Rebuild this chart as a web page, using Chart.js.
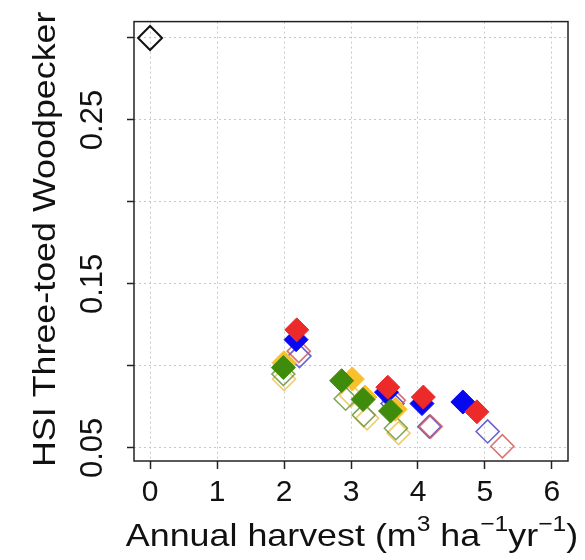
<!DOCTYPE html>
<html lang="en">
<head>
  <meta charset="UTF-8">
  <title>HSI Three-toed Woodpecker vs annual harvest</title>
  <style>
    html, body { margin: 0; padding: 0; background: #fff; }
    .chart-box { position: relative; width: 585px; height: 560px; }
  </style>
</head>
<body>
  <div class="chart-box">
    <canvas id="hsiChart"></canvas>
  </div>

  <script src="https://cdn.jsdelivr.net/npm/chart.js"></script>
  <script>
    // habitat suitability per harvest level, one series per scenario
    const baseX = [0];
    const baseY = [0.30];

    const redFilledX = [2.19, 3.55, 4.08, 4.88];
    const redFilledY = [0.122, 0.087, 0.081, 0.072];
    const blueFilledX = [2.18, 3.53, 4.06, 4.67];
    const blueFilledY = [0.116, 0.084, 0.077, 0.078];
    const yellowFilledX = [2.00, 3.02, 3.21, 3.66];
    const yellowFilledY = [0.102, 0.092, 0.081, 0.0735];
    const greenFilledX = [1.99, 2.86, 3.18, 3.59];
    const greenFilledY = [0.099, 0.091, 0.0795, 0.0725];

    const redOpenX = [2.22, 3.64, 4.19, 5.26];
    const redOpenY = [0.109, 0.079, 0.063, 0.051];
    const blueOpenX = [2.23, 3.62, 4.17, 5.04];
    const blueOpenY = [0.106, 0.077, 0.063, 0.060];
    const yellowOpenX = [2.00, 3.00, 3.24, 3.71];
    const yellowOpenY = [0.092, 0.082, 0.068, 0.059];
    const greenOpenX = [1.99, 2.92, 3.19, 3.67];
    const greenOpenY = [0.095, 0.080, 0.070, 0.062];

    const xTicks = [0, 1, 2, 3, 4, 5, 6];
    const xTickLabels = ['0', '1', '2', '3', '4', '5', '6'];
    const yTicks = [0.05, 0.10, 0.15, 0.20, 0.25, 0.30];
    const yTickLabels = ['0.05', '', '0.15', '', '0.25', ''];

    const FONT = '"Liberation Sans", Arial, sans-serif';
    const TEXT_STRETCH = 1.12; // titles are set a little wider than the plain face

    const pts = (xs, ys) => xs.map((x, i) => ({ x: x, y: ys[i] }));

    function filled(xs, ys, color, order) {
      return {
        data: pts(xs, ys),
        order: order,
        pointStyle: 'rectRot',
        pointRadius: 12,
        pointBackgroundColor: color,
        pointBorderColor: color,
        pointBorderWidth: 1
      };
    }
    function open(xs, ys, color, order, r, w) {
      return {
        data: pts(xs, ys),
        order: order,
        pointStyle: 'rectRot',
        pointRadius: r || 11.5,
        pointBackgroundColor: 'rgba(0,0,0,0)',
        pointBorderColor: color,
        pointBorderWidth: w || 1.6
      };
    }

    const datasets = [
      filled(redFilledX, redFilledY, '#ec2a2a', 1),
      filled(greenFilledX, greenFilledY, '#3f8c0c', 2),
      filled(blueFilledX, blueFilledY, '#0808f0', 3),
      filled(yellowFilledX, yellowFilledY, '#f6c12c', 4),
      open(redOpenX, redOpenY, 'rgba(210,90,90,0.85)', 5),
      open(blueOpenX, blueOpenY, 'rgba(80,70,200,0.85)', 6),
      open(greenOpenX, greenOpenY, 'rgba(110,150,60,0.85)', 7),
      open(yellowOpenX, yellowOpenY, 'rgba(238,200,90,0.9)', 8),
      open(baseX, baseY, '#111111', 9, 12, 2)
    ];

    // closed frame around the plotting region
    const frame = {
      id: 'frame',
      afterDraw(chart) {
        const a = chart.chartArea, c = chart.ctx;
        c.save();
        c.strokeStyle = '#222';
        c.lineWidth = 1.5;
        c.strokeRect(a.left, a.top, a.right - a.left, a.bottom - a.top);
        c.restore();
      }
    };

    // axis titles; the x title carries raised unit exponents
    const axisTitles = {
      id: 'axisTitles',
      afterDraw(chart) {
        const c = chart.ctx, a = chart.chartArea;
        c.save();
        c.fillStyle = '#111';

        // y title, rotated
        c.save();
        c.font = 'normal 32px ' + FONT;
        c.translate(46, (a.top + a.bottom) / 2 - 2);
        c.rotate(-Math.PI / 2);
        c.scale(TEXT_STRETCH, 1);
        c.textAlign = 'center';
        c.textBaseline = 'middle';
        c.fillText('HSI Three-toed Woodpecker', 0, 0);
        c.restore();

        // x title
        const parts = [
          ['Annual harvest (m', false], ['3', true], [' ha', false],
          ['\u22121', true], ['yr', false], ['\u22121', true], [')', false]
        ];
        const big = 'normal 32px ' + FONT, small = 'normal 22px ' + FONT;
        let total = 0;
        parts.forEach(p => { c.font = p[1] ? small : big; total += c.measureText(p[0]).width; });
        c.translate((a.left + a.right) / 2 + 1, 546);
        c.scale(TEXT_STRETCH, 1);
        let x = -total / 2;
        c.textBaseline = 'alphabetic';
        c.textAlign = 'left';
        parts.forEach(p => {
          c.font = p[1] ? small : big;
          c.fillText(p[0], x, p[1] ? -15 : 0);
          x += c.measureText(p[0]).width;
        });
        c.restore();
      }
    };

    const config = {
      type: 'scatter',
      data: { datasets: datasets },
      options: {
        responsive: true,
        maintainAspectRatio: false,
        animation: false,
        layout: { padding: { top: 17, right: 17, left: 0, bottom: 0 } },
        plugins: { legend: { display: false }, tooltip: { enabled: false } },
        scales: {
          x: {
            type: 'linear',
            min: -0.24,
            max: 6.24,
            afterBuildTicks: s => { s.ticks = xTicks.map(v => ({ value: v })); },
            afterFit: s => { s.height = 99; },
            grid: { color: '#c8c8c8', lineWidth: 1, tickColor: '#222', tickLength: 8, tickWidth: 1.5 },
            border: { display: false, dash: [2, 3] },
            ticks: {
              autoSkip: false,
              maxRotation: 0,
              padding: 6,
              color: '#111',
              font: { family: FONT, size: 30 },
              callback: (v, i) => xTickLabels[i]
            }
          },
          y: {
            type: 'linear',
            min: 0.042,
            max: 0.31,
            afterBuildTicks: s => { s.ticks = yTicks.map(v => ({ value: v })); },
            afterFit: s => { s.width = 134; },
            grid: { color: '#c8c8c8', lineWidth: 1, tickColor: '#222', tickLength: 7, tickWidth: 1.5 },
            border: { display: false, dash: [2, 3] },
            ticks: {
              autoSkip: false,
              minRotation: 90,
              maxRotation: 90,
              crossAlign: 'center',
              padding: 3,
              color: '#111',
              font: { family: FONT, size: 31 },
              callback: (v, i) => yTickLabels[i]
            }
          }
        }
      },
      plugins: [frame, axisTitles]
    };

    window.addEventListener('load', () => {
      const ctx = document.getElementById('hsiChart').getContext('2d');
      new Chart(ctx, config);
    });
  </script>
</body>
</html>
